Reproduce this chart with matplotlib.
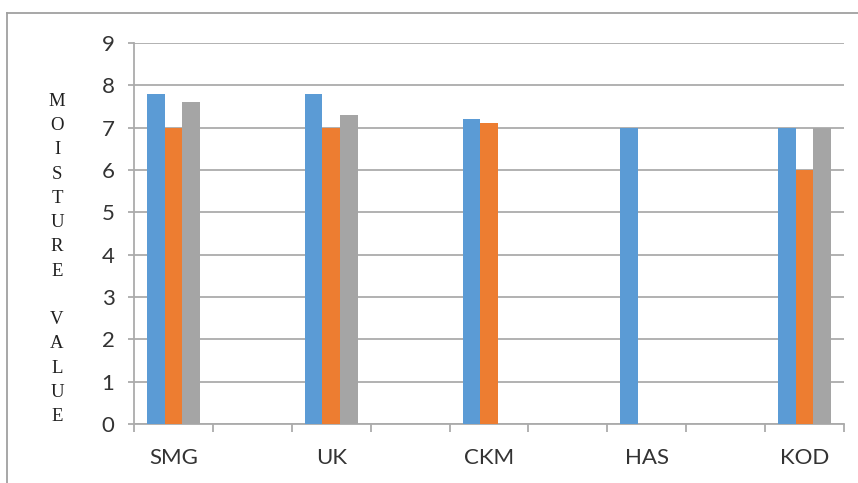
import numpy as np
import matplotlib.pyplot as plt
from matplotlib.lines import Line2D

# sites (every other slot is left empty)
categories = ['SMG', '', 'UK', '', 'CKM', '', 'HAS', '', 'KOD']
series_1 = [7.8, np.nan, 7.8, np.nan, 7.2, np.nan, 7.0, np.nan, 7.0]
series_2 = [7.0, np.nan, 7.0, np.nan, 7.1, np.nan, np.nan, np.nan, 6.0]
series_3 = [7.6, np.nan, 7.3, np.nan, np.nan, np.nan, np.nan, np.nan, 7.0]
y_ticks = [0, 1, 2, 3, 4, 5, 6, 7, 8, 9]
axis_title = "MOISTURE VALUE"

colors = ['#5B9BD5', '#ED7D31', '#A5A5A5']
grid_col = '#ABABAB'
label_font = ['Lato', 'DejaVu Sans']

fig = plt.figure(figsize=(8.58, 4.83), dpi=100)
ax = fig.add_axes([0.1562, 0.1222, 0.8275, 0.7888])

x = np.arange(len(categories))
w = 0.667 / 3
for i, (vals, c) in enumerate(zip([series_1, series_2, series_3], colors)):
    ax.bar(x + (i - 1) * w, vals, width=w, color=c, zorder=3)

ax.set_xlim(-0.5, len(categories) - 0.5)
ax.set_ylim(0, 9)

# gridlines
ax.set_yticks(y_ticks)
ax.yaxis.grid(True, color=grid_col, linewidth=1.3, zorder=0)
for s in ['top', 'right']:
    ax.spines[s].set_visible(False)
ax.spines['left'].set_color(grid_col)
ax.spines['bottom'].set_color(grid_col)
ax.spines['left'].set_linewidth(1.3)
ax.spines['bottom'].set_linewidth(1.3)

# boundary ticks between slots, labels in the middle
ax.set_xticks(np.arange(-0.5, len(categories), 1.0))
ax.set_xticklabels([])
ax.set_xticks(x, minor=True)
ax.set_xticklabels(categories, minor=True, family=label_font, fontsize=16,
                   color='#333333')
ax.tick_params(axis='x', which='major', length=6, color=grid_col, width=1.3)
ax.tick_params(axis='x', which='minor', length=0, pad=17)
ax.tick_params(axis='y', length=4, color=grid_col, width=1.3, pad=10,
               labelcolor='#333333')
for t in ax.get_yticklabels():
    t.set_family(label_font)
    t.set_fontsize(16)

# stacked vertical axis title
letters = []
for word in axis_title.split(' '):
    letters.extend(list(word))
    letters.append('')
fig.text(57 / 858, 1 - 259 / 483, '\n'.join(letters[:-1]), ha='center',
         va='center', family='Liberation Serif', fontsize=13.5,
         linespacing=1.56, color='#202020')

# outer chart frame
fig.add_artist(Line2D([7 / 858, 7 / 858], [0, 1 - 13 / 483],
                      transform=fig.transFigure, color='#A0A0A0', lw=1.3))
fig.add_artist(Line2D([7 / 858, 1], [1 - 13 / 483, 1 - 13 / 483],
                      transform=fig.transFigure, color='#A0A0A0', lw=1.3))

fig.savefig('out.png', dpi=100)
